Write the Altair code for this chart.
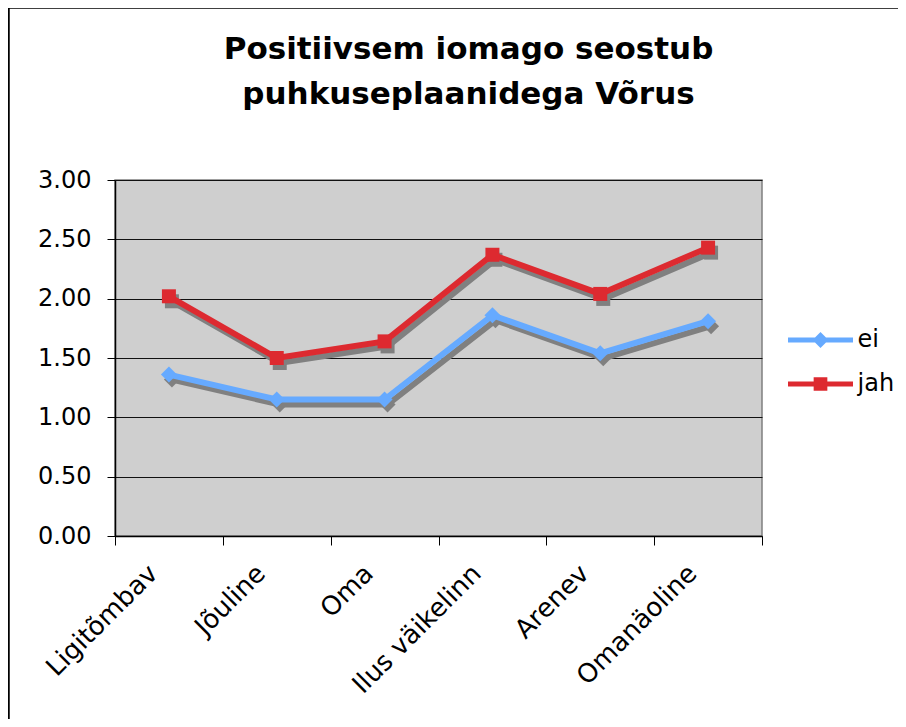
import altair as alt
import pandas as pd

categories = ["Ligitõmbav", "Jõuline", "Oma", "Ilus väikelinn", "Arenev", "Omanäoline"]
series_names = ["ei", "jah"]
ei_values = [1.36, 1.15, 1.15, 1.86, 1.54, 1.81]
jah_values = [2.02, 1.50, 1.64, 2.37, 2.04, 2.43]
y_ticks = [0, 0.5, 1.0, 1.5, 2.0, 2.5, 3.0]
title_lines = ["Positiivsem iomago seostub", "puhkuseplaanidega Võrus"]

rows = []
for c, v in zip(categories, ei_values):
    rows.append({"kategooria": c, "seeria": "ei", "väärtus": v})
for c, v in zip(categories, jah_values):
    rows.append({"kategooria": c, "seeria": "jah", "väärtus": v})
df = pd.DataFrame(rows)

BLUE = "#66AAFF"
RED = "#DD2A30"
SHADOW = "#808080"
FONT = "DejaVu Sans"

# legend symbols: line with marker (filled paths)
leg_diamond = ("M-1.71,-0.13 L1.71,-0.13 L1.71,0.13 L-1.71,0.13 Z "
               "M0,-0.42 L0.42,0 L0,0.42 L-0.42,0 Z")
leg_square = ("M-1.71,-0.13 L1.71,-0.13 L1.71,0.13 L-1.71,0.13 Z "
              "M-0.36,-0.36 L0.36,-0.36 L0.36,0.36 L-0.36,0.36 Z")

x_enc = alt.X(
    "kategooria:N",
    sort=categories,
    bandPosition=0.5,
    scale=alt.Scale(type="band", paddingInner=0, paddingOuter=0),
    axis=alt.Axis(
        title=None,
        tickBand="extent",
        tickSize=9,
        tickColor="#000000",
        domainColor="#000000",
        domainWidth=1.5,
        labelAngle=-45,
        labelAlign="right",
        labelBaseline="middle",
        labelFontSize=26,
        labelFont=FONT,
        labelColor="#000000",
        labelPadding=24,
        labelOffset=-16,
        grid=False,
    ),
)
y_enc = alt.Y(
    "väärtus:Q",
    scale=alt.Scale(domain=[0, 3], nice=False, zero=True),
    axis=alt.Axis(
        title=None,
        values=y_ticks,
        format=".2f",
        tickSize=8,
        tickColor="#000000",
        domainColor="#000000",
        domainWidth=1.5,
        labelFontSize=24,
        labelFont=FONT,
        labelColor="#000000",
        labelPadding=16,
        grid=True,
        gridColor="#111111",
        gridWidth=1.2,
    ),
)

base = alt.Chart(df).encode(x=x_enc, y=y_enc)

one = pd.DataFrame({"a": [0]})
frame_left = alt.Chart(one).mark_rule(color="#000000", strokeWidth=2.5).encode(
    x=alt.value(-106.5), y=alt.value(-172.5), y2=alt.value(700)
)
frame_top = alt.Chart(one).mark_rule(color="#000000", strokeWidth=2.5).encode(
    x=alt.value(-106.5), x2=alt.value(900), y=alt.value(-172.5)
)

shadow_line = base.mark_line(
    color=SHADOW, strokeWidth=6, xOffset=3, yOffset=5
).encode(detail="seeria:N")

ei_base = base.transform_filter(alt.datum.seeria == "ei")
jah_base = base.transform_filter(alt.datum.seeria == "jah")

shadow_diamond = ei_base.mark_point(
    shape="diamond", filled=True, size=256, color=SHADOW, opacity=1,
    xOffset=3, yOffset=5,
)
shadow_square = jah_base.mark_point(
    shape="square", filled=True, size=196, color=SHADOW, opacity=1,
    xOffset=3, yOffset=5,
)

line_ei = ei_base.mark_line(strokeWidth=6, color=BLUE)
line_jah = jah_base.mark_line(strokeWidth=6, color=RED)

diamonds = ei_base.mark_point(
    shape="diamond", filled=True, size=256, opacity=1, color=BLUE
)
squares = jah_base.mark_point(
    shape="square", filled=True, size=196, opacity=1, color=RED
)

legend_props = dict(
    title=None,
    orient="none",
    legendX=686.5,
    legendY=141,
    symbolSize=1444,
    symbolStrokeWidth=0,
    labelFontSize=24,
    labelFont=FONT,
    labelColor="#000000",
    labelOffset=18,
    rowPadding=13,
    padding=0,
)

legend_layer = base.transform_filter("false").mark_point(
    filled=True, opacity=1
).encode(
    color=alt.Color(
        "seeria:N",
        scale=alt.Scale(domain=series_names, range=[BLUE, RED]),
        legend=alt.Legend(**legend_props),
    ),
    shape=alt.Shape(
        "seeria:N",
        scale=alt.Scale(domain=series_names, range=[leg_diamond, leg_square]),
        legend=alt.Legend(**legend_props),
    ),
)

chart = alt.layer(
    frame_left, frame_top, shadow_line, shadow_diamond, shadow_square,
    line_ei, line_jah, diamonds, squares, legend_layer
).properties(
    width=647,
    height=356,
    padding={"left": 107, "top": 172, "right": 136, "bottom": 183},
    autosize=alt.AutoSizeParams(type="none"),
    background="#FFFFFF",
    title=alt.TitleParams(
        text=title_lines,
        font=FONT,
        fontSize=31,
        fontWeight="bold",
        color="#000000",
        anchor="middle",
        frame="group",
        dx=30,
        dy=105,
        offset=0,
        lineHeight=45,
    ),
).configure_view(
    fill="#CFCFCF", stroke="#808080", strokeWidth=1.5
)

chart.save("out.html", embed_options={"renderer": "svg", "actions": False})
